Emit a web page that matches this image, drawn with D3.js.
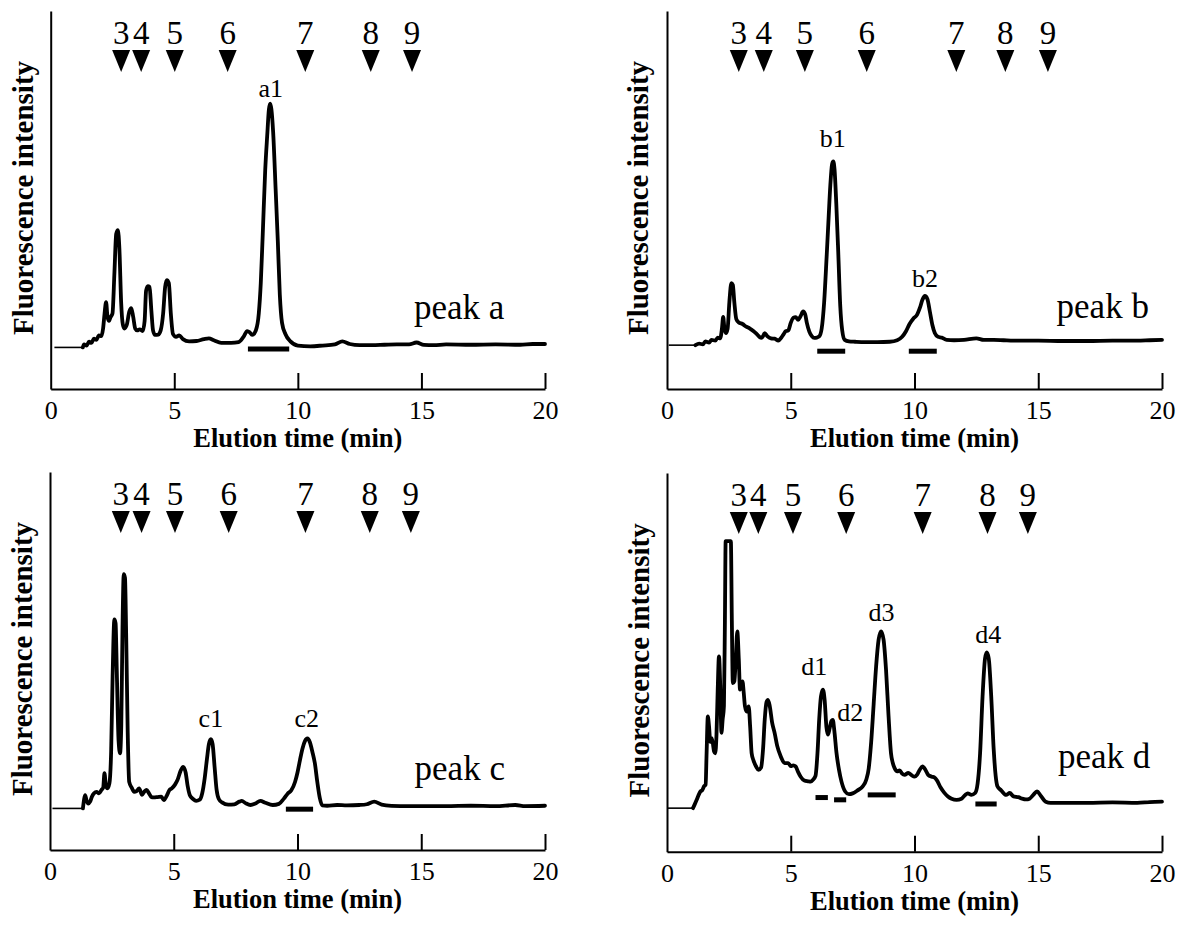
<!DOCTYPE html>
<html>
<head>
<meta charset="utf-8">
<script src="https://cdn.jsdelivr.net/npm/d3@7"></script>
<style>
  body { margin: 0; background: #fff; }
  svg { display: block; }
  svg text { font-family: "Times New Roman", Times, "Liberation Serif", serif; fill: #000; }
</style>
</head>
<body>
<svg id="chart" width="1186" height="931"></svg>
<script>
// Elution time axis (min)
const timeTicks = [0, 5, 10, 15, 20];
// Glucose-unit standards marked above each chromatogram
const standardLabels = ["3", "4", "5", "6", "7", "8", "9"];
const standardsA = [2.85, 3.66, 5.02, 7.16, 10.30, 12.95, 14.62];
const standardsB = [2.90, 3.91, 5.57, 8.07, 11.69, 13.67, 15.39];
const standardsC = [2.86, 3.70, 5.05, 7.22, 10.32, 12.92, 14.58];
const standardsD = [2.90, 3.69, 5.09, 7.24, 10.33, 12.95, 14.58];

// Flat start of each run before the signal (min)
const leadA = [0.15, 1.3];
const leadB = [0.07, 1.15];
const leadC = [0.10, 1.33];
const leadD = [0.00, 1.05];

// Fluorescence traces: [time (min), intensity (a.u.)]
const traceA = [[1.3,0],[1.35,0.8],[1.45,0.5],[1.55,1.5],[1.65,1.2],[1.75,2.3],[1.85,2.0],[1.95,3.2],[2.05,3.0],[2.12,5],[2.18,9],[2.24,12],[2.3,8],[2.36,7],[2.42,8],[2.5,9],[2.58,20],[2.65,30],[2.72,31],[2.78,26],[2.85,12],[2.92,6],[2.98,5],[3.08,6],[3.18,9.5],[3.26,10.4],[3.34,8],[3.42,5],[3.5,4.5],[3.6,4.8],[3.72,4.3],[3.8,7],[3.86,15],[3.93,16.2],[4.0,16],[4.07,10],[4.14,4.5],[4.22,3.3],[4.35,3.4],[4.45,4.5],[4.55,9],[4.63,16],[4.7,17.8],[4.78,17],[4.86,9],[4.95,3.5],[5.07,2.8],[5.2,3.2],[5.35,2.2],[5.6,1.6],[5.9,1.7],[6.2,2.2],[6.4,2.4],[6.6,1.9],[6.9,1.2],[7.3,1.2],[7.6,1.4],[7.8,2.8],[7.95,4.3],[8.05,4.0],[8.15,3.3],[8.3,4.5],[8.42,9],[8.5,17],[8.58,30],[8.68,47],[8.76,56],[8.83,63],[8.88,64.5],[8.93,63],[9.0,57],[9.1,42],[9.19,28],[9.27,14],[9.36,6.5],[9.5,3.5],[9.7,1.6],[10.0,0.5],[10.5,0.3],[11.0,0.5],[11.5,0.8],[11.8,1.6],[12.1,0.9],[12.5,0.6],[13.0,0.6],[13.5,0.7],[14.0,0.8],[14.5,0.8],[14.8,1.3],[15.1,0.7],[15.5,0.6],[16,0.8],[17,0.7],[18,0.8],[19,0.7],[19.5,0.9],[20,0.9]];

const traceB = [[1.15,0.6],[1.3,1.0],[1.45,0.8],[1.55,1.6],[1.7,1.3],[1.8,2.0],[1.95,1.8],[2.05,2.6],[2.15,2.4],[2.22,5],[2.27,8.1],[2.32,5],[2.38,3.8],[2.45,5],[2.52,12],[2.6,17],[2.66,16.5],[2.72,12],[2.8,7.5],[2.9,6.6],[3.05,6.2],[3.2,5.5],[3.35,5.0],[3.5,4.3],[3.65,3.4],[3.8,2.5],[3.88,3.0],[3.95,3.8],[4.05,3.0],[4.2,2.4],[4.35,2.3],[4.5,1.8],[4.62,2.6],[4.72,3.6],[4.8,4.3],[4.9,4.5],[5.0,6.5],[5.1,7.8],[5.2,8.0],[5.3,7.3],[5.4,8.3],[5.5,9.5],[5.58,8.8],[5.65,6.5],[5.75,4.2],[5.85,3.0],[5.95,2.5],[6.05,2.6],[6.15,2.9],[6.25,5],[6.35,12],[6.45,24],[6.52,33],[6.6,43],[6.67,48.5],[6.72,49.2],[6.77,47],[6.84,38],[6.92,25],[7.0,11],[7.08,4.5],[7.18,2.0],[7.35,1.6],[7.6,1.5],[8.0,1.4],[8.5,1.4],[9.0,1.5],[9.3,1.9],[9.5,2.8],[9.65,4.2],[9.8,6.2],[9.95,7.6],[10.1,8.6],[10.22,10.5],[10.32,12.6],[10.42,13.6],[10.52,12.8],[10.62,9.5],[10.72,6],[10.82,3.8],[10.95,2.8],[11.1,2.6],[11.3,2.0],[11.6,1.9],[12.0,2.0],[12.5,2.4],[12.8,2.0],[13.2,2.0],[13.6,1.9],[14,1.8],[14.5,1.8],[15,1.8],[16,1.7],[17,1.7],[18,1.8],[19,1.8],[19.5,1.9],[20,2.0]];

const traceC = [[1.33,0],[1.38,2.5],[1.42,3.5],[1.48,2.0],[1.55,1.3],[1.62,1.8],[1.7,3.2],[1.78,4.0],[1.88,4.4],[1.98,4.0],[2.08,4.9],[2.15,5.5],[2.2,9.3],[2.26,6],[2.32,5.3],[2.4,6.6],[2.47,15],[2.53,35],[2.6,50],[2.65,49],[2.7,36],[2.77,18],[2.83,14.6],[2.88,22],[2.93,48],[2.98,62],[3.03,61],[3.08,45],[3.14,20],[3.2,7],[3.3,5.5],[3.4,4.4],[3.5,4.6],[3.6,5.3],[3.72,3.6],[3.82,4.5],[3.9,4.9],[4.0,4.0],[4.1,3.0],[4.2,2.9],[4.35,3.0],[4.5,3.1],[4.6,2.2],[4.72,3.4],[4.82,4.8],[4.92,5.3],[5.05,6.3],[5.15,7.5],[5.28,10],[5.38,11],[5.48,9.5],[5.56,6],[5.65,3.5],[5.78,2.5],[5.9,2.0],[6.05,2.3],[6.15,4],[6.25,8],[6.34,13],[6.42,17],[6.5,18.3],[6.57,17],[6.65,11],[6.73,5],[6.82,2.5],[6.95,1.6],[7.2,1.0],[7.45,1.1],[7.65,1.8],[7.75,2.0],[7.9,1.4],[8.1,0.9],[8.3,1.3],[8.5,2.0],[8.7,1.5],[9.0,0.9],[9.25,1.2],[9.45,2.6],[9.6,3.9],[9.75,4.8],[9.9,7],[10.0,9.5],[10.1,12.8],[10.2,15.8],[10.3,17.8],[10.4,18.5],[10.5,17.5],[10.6,15],[10.7,12],[10.8,7],[10.9,2.8],[11.0,0.8],[11.2,0.7],[11.6,0.9],[12.0,0.8],[12.5,0.9],[12.8,1.1],[13.1,1.8],[13.4,1.0],[13.8,0.7],[14.5,0.6],[15,0.6],[16,0.6],[17,0.7],[18,0.6],[18.8,0.9],[19.2,0.6],[20,0.7]];

const traceD = [[1.05,0.5],[1.12,1.5],[1.2,2.7],[1.28,4.0],[1.35,4.9],[1.42,5.2],[1.5,6.3],[1.56,6.7],[1.6,15],[1.65,24.7],[1.7,22],[1.75,18],[1.8,19],[1.85,17.7],[1.9,15.5],[1.95,15],[2.0,20],[2.05,32],[2.1,40.6],[2.15,33],[2.2,20.4],[2.25,24],[2.3,27.4],[2.34,50],[2.37,71],[2.58,71],[2.62,50],[2.66,33.5],[2.72,34],[2.78,40],[2.84,47.2],[2.9,40],[2.95,31.8],[3.0,33],[3.05,34],[3.1,31],[3.15,27.4],[3.22,26],[3.3,27.4],[3.36,22],[3.42,15],[3.5,13],[3.6,11.5],[3.7,10.6],[3.8,11.2],[3.88,16],[3.95,24],[4.02,28.5],[4.08,29.1],[4.15,27.5],[4.25,23],[4.35,20.3],[4.45,17],[4.6,14.1],[4.75,12.4],[4.9,12.4],[5.0,11.6],[5.1,11.8],[5.2,11.5],[5.3,10],[5.4,8.8],[5.55,7.8],[5.7,7.6],[5.8,7.5],[5.9,8],[6.0,9],[6.08,15],[6.15,24],[6.22,30],[6.3,31.8],[6.37,29],[6.44,22],[6.5,19.9],[6.57,21.5],[6.64,23.5],[6.7,23.8],[6.76,21],[6.85,15],[6.95,10.6],[7.05,7.5],[7.2,4.9],[7.35,4.2],[7.5,4.4],[7.7,5.2],[7.9,6.2],[8.05,8],[8.15,11],[8.25,18],[8.35,28],[8.45,38],[8.55,45],[8.65,47.2],[8.75,45],[8.85,37],[8.95,25],[9.05,15],[9.12,12.5],[9.2,11],[9.3,10.2],[9.4,10.5],[9.5,9.6],[9.6,9.3],[9.75,9.8],[9.88,9.2],[10.0,8.8],[10.1,9.3],[10.2,10.5],[10.32,11.5],[10.45,10.5],[10.55,9.3],[10.7,8.8],[10.8,8.6],[10.9,7.9],[11.05,6],[11.2,4.6],[11.35,3.6],[11.5,3.0],[11.7,2.7],[11.9,3.0],[12.05,4.0],[12.15,4.4],[12.3,4.0],[12.45,4.5],[12.55,7],[12.65,15],[12.75,30],[12.85,40],[12.92,41.6],[13.0,40],[13.1,30],[13.2,16],[13.28,9],[13.35,6.3],[13.5,5.2],[13.7,4.0],[13.85,4.5],[14.0,3.6],[14.2,3.4],[14.35,3.0],[14.5,2.8],[14.65,3.0],[14.8,4.0],[14.95,4.9],[15.1,3.8],[15.3,2.2],[15.5,1.9],[16,1.9],[17,1.9],[18,2.0],[19,1.9],[19.5,2.1],[20,2.2]];

// Collected fractions: [start (min), end (min), level (a.u.)]
const fractionsA = [[7.98, 9.65, -0.4]];
const fractionsB = [[6.07, 7.20, -1.0], [9.77, 10.90, -1.0]];
const fractionsC = [[9.53, 10.63, -0.2]];
const fractionsD = [[6.00, 6.50, 3.3], [6.75, 7.24, 2.7], [8.11, 9.24, 4.0], [12.46, 13.32, 1.6]];

// Peak names: [label, time (min), baseline level (a.u.)]
const peaksA = [["a1", 8.90, 66.2]];
const peaksB = [["b1", 6.70, 53.0], ["b2", 10.42, 16.0]];
const peaksC = [["c1", 6.50, 21.6], ["c2", 10.37, 21.6]];
const peaksD = [["d1", 5.95, 35.7], ["d2", 7.40, 23.4], ["d3", 8.67, 49.8], ["d4", 12.98, 44.1]];

// Sample names: [label, start time (min), baseline level (a.u.)]
const sampleA = ["peak a", 14.70, 7.5];
const sampleB = ["peak b", 15.74, 7.8];
const sampleC = ["peak c", 14.73, 7.5];
const sampleD = ["peak d", 15.80, 11.1];

const intensityDomain = [-11, 89];
const xTitle = "Elution time (min)";
const yTitle = "Fluorescence intensity";

const panels = [
  { trace: traceA, lead: leadA, standards: standardsA, fractions: fractionsA, peaks: peaksA, sample: sampleA,
    left: 50.7, right: 545, top: 11, bottom: 389, yTitleX: 33 },
  { trace: traceB, lead: leadB, standards: standardsB, fractions: fractionsB, peaks: peaksB, sample: sampleB,
    left: 667, right: 1162, top: 11, bottom: 389, yTitleX: 648 },
  { trace: traceC, lead: leadC, standards: standardsC, fractions: fractionsC, peaks: peaksC, sample: sampleC,
    left: 50, right: 545, top: 472, bottom: 850, yTitleX: 32 },
  { trace: traceD, lead: leadD, standards: standardsD, fractions: fractionsD, peaks: peaksD, sample: sampleD,
    left: 667, right: 1162, top: 473, bottom: 851.7, yTitleX: 649 }
];

const serif = '"Times New Roman", Times, "Liberation Serif", serif';
const svg = d3.select("#chart");
svg.append("rect").attr("width", 1186).attr("height", 931).attr("fill", "#fff");

panels.forEach(p => {
  const g = svg.append("g").attr("font-family", serif);
  const x = d3.scaleLinear().domain([0, 20]).range([p.left, p.right]);
  const y = d3.scaleLinear().domain(intensityDomain).range([p.bottom, p.top]);

  // x axis: ticks point inward
  const xAxis = d3.axisBottom(x).tickValues(timeTicks).tickSizeInner(-16).tickSizeOuter(0).tickPadding(12);
  const gx = g.append("g").attr("transform", `translate(0,${p.bottom})`).call(xAxis)
    .attr("font-family", serif).attr("font-size", 26);
  gx.select(".domain").attr("stroke", "#000").attr("stroke-width", 2);
  gx.selectAll(".tick line").attr("stroke", "#000").attr("stroke-width", 2)
    .attr("opacity", d => d === 0 ? 0 : 1);
  gx.selectAll(".tick text").attr("fill", "#000");

  // y axis: plain line
  const yAxis = d3.axisLeft(y).tickValues([]).tickSizeOuter(0);
  const gy = g.append("g").attr("transform", `translate(${p.left},0)`).call(yAxis);
  gy.select(".domain").attr("stroke", "#000").attr("stroke-width", 2);

  // axis titles
  g.append("text")
    .attr("x", (p.left + p.right) / 2).attr("y", p.bottom + 58)
    .attr("text-anchor", "middle").attr("font-size", 26.5).attr("font-weight", "bold")
    .text(xTitle);
  g.append("text")
    .attr("transform", `translate(${p.yTitleX},${(p.top + p.bottom) / 2 - 2}) rotate(-90)`)
    .attr("text-anchor", "middle").attr("font-size", 29).attr("font-weight", "bold")
    .text(yTitle);

  // standard markers
  const tri = d3.line();
  p.standards.forEach((t, i) => {
    const cx = x(t);
    g.append("path")
      .attr("d", tri([[cx - 9, p.top + 39], [cx + 9, p.top + 39], [cx, p.top + 61]]) + "Z")
      .attr("fill", "#000");
    g.append("text")
      .attr("x", cx).attr("y", p.top + 33)
      .attr("text-anchor", "middle").attr("font-size", 33)
      .text(standardLabels[i]);
  });

  // leading flat segment (thin)
  const v0 = p.trace[0][1];
  g.append("path")
    .attr("d", d3.line()([[x(p.lead[0]), y(v0)], [x(p.lead[1]), y(v0)]]))
    .attr("stroke", "#000").attr("stroke-width", 1.6).attr("fill", "none");

  // chromatogram
  const line = d3.line().x(d => x(d[0])).y(d => y(d[1])).curve(d3.curveMonotoneX);
  g.append("path").datum(p.trace)
    .attr("d", line)
    .attr("fill", "none").attr("stroke", "#000")
    .attr("stroke-width", 3.8).attr("stroke-linejoin", "round").attr("stroke-linecap", "round");

  // collected fractions
  p.fractions.forEach(f => {
    g.append("line")
      .attr("x1", x(f[0])).attr("x2", x(f[1]))
      .attr("y1", y(f[2])).attr("y2", y(f[2]))
      .attr("stroke", "#000").attr("stroke-width", 5);
  });

  // peak names
  p.peaks.forEach(pk => {
    g.append("text")
      .attr("x", x(pk[1])).attr("y", y(pk[2]))
      .attr("text-anchor", "middle").attr("font-size", 26)
      .text(pk[0]);
  });

  // sample name
  g.append("text")
    .attr("x", x(p.sample[1])).attr("y", y(p.sample[2]))
    .attr("font-size", 35)
    .text(p.sample[0]);
});
</script>
</body>
</html>
